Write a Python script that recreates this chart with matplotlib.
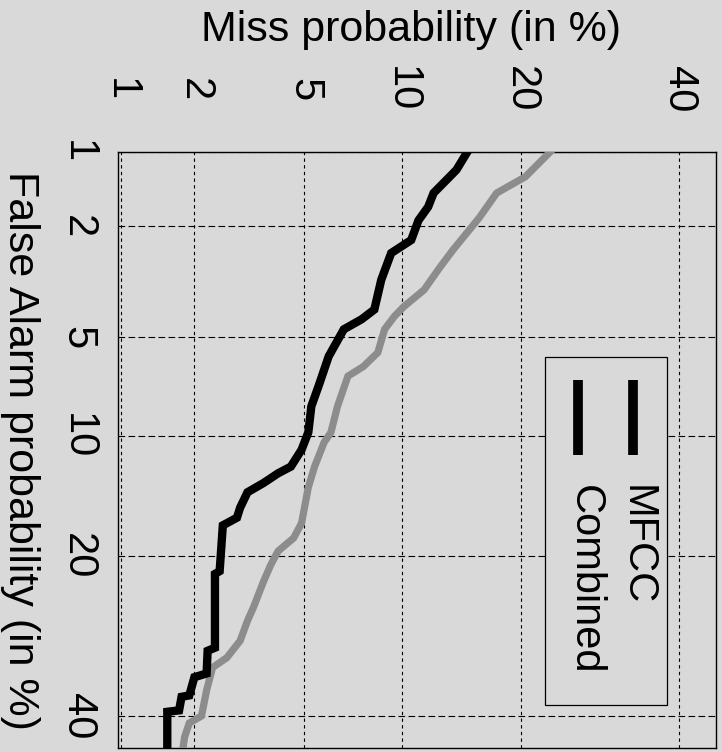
import math
import numpy as np
import matplotlib
matplotlib.use("Agg")
import matplotlib.pyplot as plt
from matplotlib.lines import Line2D
from matplotlib.patches import Rectangle

# DET curves, drawn rotated: x = miss probability (%), y = false alarm probability (%)
mfcc_miss = [23.8, 20.5, 17.6, 16.0, 13.7, 12.7, 11.5, 10.1, 9.5, 8.9, 8.5, 7.7, 6.9,
             6.4, 6.1, 5.8, 5.4, 5.15, 4.89, 4.6, 4.07, 3.84, 3.62, 3.33, 3.17, 2.98,
             2.66, 2.35, 2.23, 2.13, 1.91, 1.83, 1.78]
mfcc_fa = [0.95, 1.27, 1.48, 1.85, 2.47, 2.85, 3.44, 3.94, 4.25, 4.7, 5.6, 6.2, 6.65,
           8.2, 9.75, 10.4, 12.1, 13.7, 16.8, 18.2, 19.5, 20.9, 22.7, 25.7, 27.3, 29.8,
           32.0, 33.3, 36.4, 40.0, 41.0, 43.0, 46.0]

comb_miss = [15.2, 14.0, 12.2, 11.8, 11.1, 10.6, 9.3, 8.7, 8.3, 7.6, 6.7, 6.25, 6.0,
             5.56, 5.27, 5.15, 4.89, 4.5, 4.07, 3.62, 3.17, 2.98, 2.9, 2.57, 2.5, 2.4,
             2.4, 2.25, 2.23, 2.0, 1.91, 1.78, 1.74, 1.56, 1.56]
comb_fa = [0.95, 1.19, 1.48, 1.68, 1.9, 2.26, 2.53, 3.17, 4.03, 4.35, 4.7, 5.35, 5.76,
           7.15, 8.2, 9.75, 10.9, 12.1, 12.6, 13.35, 14.1, 15.4, 16.3, 17.0, 21.6, 21.9,
           30.7, 31.1, 34.1, 34.6, 37.1, 37.3, 39.2, 39.4, 46.0]

ticks = [1, 2, 5, 10, 20, 40]
tick_labels = ["1", "2", "5", "10", "20", "40"]

_erf = np.vectorize(math.erf, otypes=[float])


def norm_cdf(z):
    return 0.5 * (1 + _erf(np.asarray(z, float) / math.sqrt(2)))


def probit(pct):
    # inverse normal cdf of a percentage, by bisection
    p = np.clip(np.asarray(pct, float) / 100.0, 1e-9, 1 - 1e-9)
    lo = np.full_like(p, -8.0)
    hi = np.full_like(p, 8.0)
    for _ in range(50):
        mid = (lo + hi) / 2
        below = norm_cdf(mid) < p
        lo = np.where(below, mid, lo)
        hi = np.where(below, hi, mid)
    return (lo + hi) / 2


def from_probit(z):
    return norm_cdf(z) * 100.0


bg = "#d9d9d9"
plt.rcParams["font.family"] = ["Liberation Sans", "DejaVu Sans"]

fig = plt.figure(figsize=(7.22, 7.52), dpi=100, facecolor=bg)
ax = fig.add_axes([0.1634, 0.0053, 0.8283, 0.7926], facecolor=bg)
ax.set_xscale("function", functions=(probit, from_probit))
ax.set_yscale("function", functions=(probit, from_probit))

ax.plot(mfcc_miss, mfcc_fa, color="#8c8c8c", lw=5.2, solid_joinstyle="miter", zorder=3)
ax.plot(comb_miss, comb_fa, color="black", lw=6.0, solid_joinstyle="miter", zorder=4)

ax.set_xlim(0.97, 45.4)
ax.set_ylim(44.6, 1.0)

ax.set_xticks(ticks)
ax.set_xticklabels(tick_labels)
ax.set_yticks(ticks)
ax.set_yticklabels(tick_labels)
ax.minorticks_off()
ax.xaxis.tick_top()
ax.tick_params(axis="x", length=0, pad=45, labelsize=30, labelrotation=-90)
ax.tick_params(axis="y", length=0, pad=29, labelsize=30, labelrotation=-90)
plt.setp(ax.get_xticklabels(), ha="center", va="center")
plt.setp(ax.get_yticklabels(), ha="center", va="center")

ax.xaxis.grid(True, color="black", lw=0.8, ls=(0, (3, 3)))
ax.yaxis.grid(True, color="black", lw=0.8, ls=(0, (6, 3)))
for s in ax.spines.values():
    s.set_linewidth(1.0)

ax.set_xlabel("Miss probability (in %)", fontsize=31, va="center", ha="center")
ax.xaxis.set_label_coords(0.49, 1.205)
ax.set_ylabel("False Alarm probability (in %)", fontsize=31, rotation=-90,
              va="center", ha="center")
ax.yaxis.set_label_coords(-0.163, 0.5)

# legend, rotated like the rest of the figure
ax.add_patch(Rectangle((0.714, 0.072), 0.204, 0.584, transform=ax.transAxes,
                       facecolor=bg, edgecolor="black", lw=0.9, zorder=5))
for lx, tx, name in [(0.861, 0.867, "MFCC"), (0.769, 0.780, "Combined")]:
    ax.add_line(Line2D([lx, lx], [0.617, 0.492], transform=ax.transAxes,
                       color="black", lw=7, solid_capstyle="butt", zorder=6))
    ax.text(tx, 0.441, name, transform=ax.transAxes, rotation=-90, fontsize=30,
            ha="center", va="top", zorder=6)

fig.savefig("out.png", dpi=100, facecolor=bg)
